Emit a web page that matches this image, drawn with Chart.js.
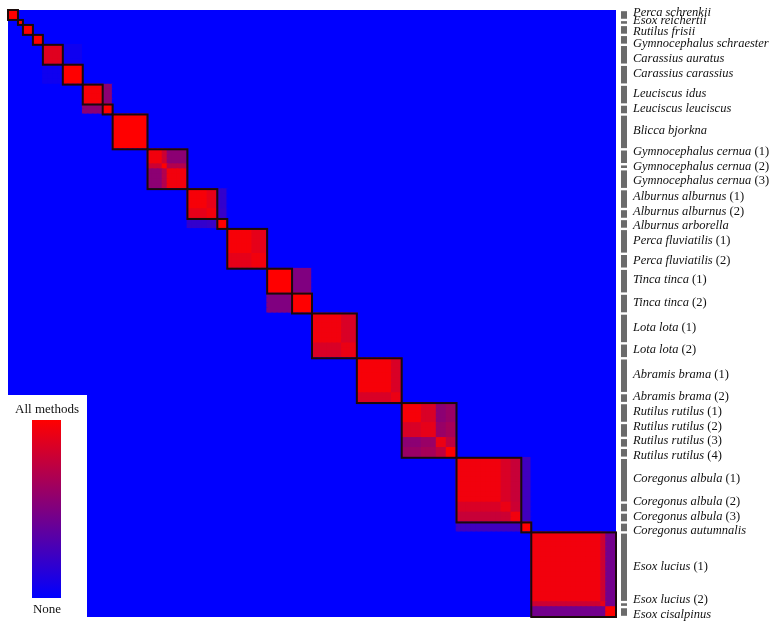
<!DOCTYPE html>
<html>
<head>
<meta charset="utf-8">
<script src="https://cdn.jsdelivr.net/npm/chart.js@4.4.1/dist/chart.umd.min.js"></script>
<style>
  html, body { margin: 0; padding: 0; background: #fff; }
  canvas { display: block; }
</style>
</head>
<body>
<canvas id="chart" width="772" height="627"></canvas>
<script>
// species / sample groups, top to bottom (same order along x)
const groupNames = [
  'Perca schrenkii', 'Esox reichertii', 'Rutilus frisii', 'Gymnocephalus schraester',
  'Carassius auratus', 'Carassius carassius', 'Leuciscus idus', 'Leuciscus leuciscus',
  'Blicca bjorkna', 'Gymnocephalus cernua (1)', 'Gymnocephalus cernua (2)', 'Gymnocephalus cernua (3)',
  'Alburnus alburnus (1)', 'Alburnus alburnus (2)', 'Alburnus arborella',
  'Perca fluviatilis (1)', 'Perca fluviatilis (2)', 'Tinca tinca (1)', 'Tinca tinca (2)',
  'Lota lota (1)', 'Lota lota (2)', 'Abramis brama (1)', 'Abramis brama (2)',
  'Rutilus rutilus (1)', 'Rutilus rutilus (2)', 'Rutilus rutilus (3)', 'Rutilus rutilus (4)',
  'Coregonus albula (1)', 'Coregonus albula (2)', 'Coregonus albula (3)', 'Coregonus autumnalis',
  'Esox lucius (1)', 'Esox lucius (2)', 'Esox cisalpinus'
];
// number of samples in each group
const groupSizes = [2, 1, 2, 2, 4, 4, 4, 2, 7, 3, 1, 4, 4, 2, 2, 5, 3, 5, 4, 6, 3, 7, 2, 4, 3, 2, 2, 9, 2, 2, 2, 14, 1, 2];
// share of methods agreeing inside each group (1 = all methods, 0 = none)
const selfAgreement = [1, 1, 1, 1, 0.88, 1, 0.97, 1, 1, 0.95, 1, 0.95, 0.97, 0.95, 1, 0.97, 0.95, 1, 1,
  0.95, 0.92, 0.97, 0.92, 0.97, 0.9, 0.92, 1, 0.95, 0.92, 0.95, 1, 0.95, 0.9, 1];
// agreement between two different groups: [groupA, groupB, value]
const crossAgreement = [
  [4, 5, 0.06],
  [6, 7, 0.55],
  [9, 10, 0.8], [9, 11, 0.55], [10, 11, 0.7],
  [12, 13, 0.9], [12, 14, 0.2], [13, 14, 0.22],
  [15, 16, 0.9],
  [17, 18, 0.5],
  [19, 20, 0.85],
  [21, 22, 0.85],
  [23, 24, 0.85], [23, 25, 0.55], [23, 26, 0.6], [24, 25, 0.6], [24, 26, 0.65], [25, 26, 0.75],
  [27, 28, 0.85], [27, 29, 0.78], [28, 29, 0.8], [27, 30, 0.25], [28, 30, 0.25], [29, 30, 0.25],
  [31, 32, 0.8], [31, 33, 0.45], [32, 33, 0.45]
];
// outlined clusters: [first group, last group]
const clusters = [[0, 0], [1, 1], [2, 2], [3, 3], [4, 4], [5, 5], [6, 6], [7, 7], [8, 8], [9, 11],
  [12, 13], [14, 14], [15, 16], [17, 17], [18, 18], [19, 20], [21, 22], [23, 26], [27, 29], [30, 30], [31, 33]];
const legendTop = 'All methods';
const legendBottom = 'None';

const N = groupSizes.reduce((a, b) => a + b, 0);
const starts = [];
let acc = 0;
groupSizes.forEach(s => { starts.push(acc); acc += s; });
const memberOf = [];
groupSizes.forEach((s, g) => { for (let i = 0; i < s; i++) memberOf.push(g); });

function agreement(a, b) {
  if (a === b) return selfAgreement[a];
  const hit = crossAgreement.find(p => (p[0] === a && p[1] === b) || (p[0] === b && p[1] === a));
  return hit ? hit[2] : 0;
}
function colorFor(v) {
  return `rgb(${Math.round(255 * v)},0,${Math.round(255 * (1 - v))})`;
}

const cells = [];
const cellColors = [];
for (let r = 0; r < N; r++) {
  for (let c = 0; c < N; c++) {
    cells.push({ x: c + 0.5, y: r + 0.5 });
    cellColors.push(colorFor(agreement(memberOf[r], memberOf[c])));
  }
}

const serif = '"Liberation Serif", "DejaVu Serif", serif';

const clusterBoxes = {
  id: 'clusterBoxes',
  afterDatasetsDraw(chart) {
    const { ctx, scales: { x, y } } = chart;
    ctx.save();
    ctx.strokeStyle = '#1a0a0a';
    ctx.lineWidth = 2;
    clusters.forEach(([a, b]) => {
      const s = starts[a], e = starts[b] + groupSizes[b];
      const x0 = x.getPixelForValue(s), x1 = x.getPixelForValue(e);
      const y0 = y.getPixelForValue(s), y1 = y.getPixelForValue(e);
      ctx.strokeRect(x0, y0, x1 - x0, y1 - y0);
    });
    ctx.restore();
  }
};

const groupLabels = {
  id: 'groupLabels',
  afterDraw(chart) {
    const { ctx, chartArea, scales: { y } } = chart;
    ctx.save();
    // gray bars
    ctx.fillStyle = '#6b6b6b';
    const centers = [];
    groupNames.forEach((name, g) => {
      const y0 = y.getPixelForValue(starts[g]) + 1.2;
      const y1 = y.getPixelForValue(starts[g] + groupSizes[g]) - 1.2;
      ctx.fillRect(chartArea.right + 5, y0, 6, Math.max(1.5, y1 - y0));
      centers.push((y0 + y1) / 2 - 1);
    });
    // spread labels apart, but keep each near its bar
    const pos = centers.slice();
    const gap = 14.5, maxMove = 4.5;
    for (let it = 0; it < 80; it++) {
      for (let k = 1; k < pos.length; k++) {
        const d = pos[k] - pos[k - 1];
        if (d < gap) {
          const sh = (gap - d) / 2;
          pos[k - 1] -= sh;
          pos[k] += sh;
        }
      }
      pos.forEach((p, k) => {
        pos[k] = Math.min(centers[k] + maxMove, Math.max(centers[k] - maxMove, p));
      });
      if (pos[0] < 12.5) pos[0] = 12.5;
    }
    ctx.fillStyle = '#111';
    ctx.textBaseline = 'middle';
    ctx.textAlign = 'left';
    groupNames.forEach((name, g) => {
      const m = name.match(/^(.*?)( \(\d\))?$/);
      const tx = chartArea.right + 17;
      ctx.font = `italic 12.5px ${serif}`;
      ctx.fillText(m[1], tx, pos[g]);
      if (m[2]) {
        const w = ctx.measureText(m[1]).width;
        ctx.font = `12.5px ${serif}`;
        ctx.fillText(m[2], tx + w, pos[g]);
      }
    });
    ctx.restore();
  }
};

const colorLegend = {
  id: 'colorLegend',
  afterDraw(chart) {
    const { ctx } = chart;
    ctx.save();
    ctx.fillStyle = '#fff';
    ctx.fillRect(0, 395, 87, 232);
    ctx.fillStyle = '#111';
    ctx.font = `13px ${serif}`;
    ctx.textAlign = 'center';
    ctx.textBaseline = 'middle';
    ctx.fillText(legendTop, 47, 410);
    ctx.fillText(legendBottom, 47, 610);
    const grad = ctx.createLinearGradient(0, 420, 0, 598);
    grad.addColorStop(0, colorFor(1));
    grad.addColorStop(1, colorFor(0));
    ctx.fillStyle = grad;
    ctx.fillRect(32, 420, 29, 178);
    ctx.restore();
  }
};

new Chart(document.getElementById('chart').getContext('2d'), {
  type: 'scatter',
  data: {
    datasets: [{
      data: cells,
      backgroundColor: cellColors,
      pointBorderWidth: 0,
      borderWidth: 0,
      pointStyle: 'rect',
      pointRadius: (c) => {
        const a = c.chart.chartArea;
        if (!a) return 4.5;
        return ((a.right - a.left) / N + 1.6) / Math.SQRT2;
      },
      pointHoverRadius: 0
    }]
  },
  options: {
    responsive: false,
    animation: false,
    events: [],
    layout: { padding: { left: 8, top: 10, right: 156, bottom: 10 } },
    scales: {
      x: { type: 'linear', min: 0, max: N, display: false },
      y: { type: 'linear', min: 0, max: N, reverse: true, display: false }
    },
    plugins: {
      legend: { display: false },
      tooltip: { enabled: false }
    }
  },
  plugins: [clusterBoxes, groupLabels, colorLegend]
});
</script>
</body>
</html>
